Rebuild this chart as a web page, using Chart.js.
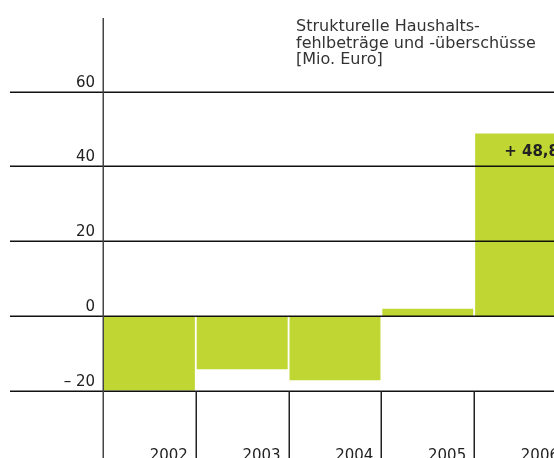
<!DOCTYPE html>
<html>
<head>
<meta charset="utf-8">
<script src="https://cdn.jsdelivr.net/npm/chart.js@4/dist/chart.umd.min.js"></script>
<style>
  html, body { margin:0; padding:0; overflow:hidden; background:#fff; }
  canvas { display:block; }
</style>
</head>
<body>
<canvas id="chart" width="567" height="485"></canvas>
<script>
// data
var years = ['2002', '2003', '2004', '2005', '2006'];
var values = [-20.0, -14.3, -17.2, 1.9, 48.8];
var valueLabels = ['', '', '', '', '+ 48,8'];
var yTicks = [-20, 0, 20, 40, 60];
var yTickLabels = ['\u2013 20', '0', '20', '40', '60'];
var titleLines = ['Strukturelle Haushalts-', 'fehlbeträge und -überschüsse', '[Mio. Euro]'];

var barColor = '#c0d632';
var textColor = '#222';

// draws the lines, axis texts and title on top of the bars
var decor = {
  id: 'decor',
  afterDatasetsDraw: function(chart) {
    var ctx = chart.ctx;
    var xs = chart.scales.x;
    var ys = chart.scales.y;
    var area = chart.chartArea;
    var H = chart.height;
    var W = chart.width;
    var half = (xs.getPixelForValue(1) - xs.getPixelForValue(0)) / 2;

    ctx.save();
    // horizontal lines
    ctx.strokeStyle = '#111';
    ctx.lineWidth = 1.5;
    for (var i = 0; i < yTicks.length; i++) {
      var y = Math.round(ys.getPixelForValue(yTicks[i])) + 0.25;
      ctx.beginPath();
      ctx.moveTo(10, y);
      ctx.lineTo(W, y);
      ctx.stroke();
    }
    // vertical axis
    ctx.strokeStyle = '#444';
    ctx.beginPath();
    ctx.moveTo(area.left + 0.25, 18);
    ctx.lineTo(area.left + 0.25, H);
    ctx.stroke();
    // category dividers below the lowest line
    var yLow = Math.round(ys.getPixelForValue(yTicks[0]));
    ctx.strokeStyle = '#222';
    for (var j = 0; j < years.length - 1; j++) {
      var xd = Math.round(xs.getPixelForValue(j) + half) + 0.25;
      ctx.beginPath();
      ctx.moveTo(xd, yLow);
      ctx.lineTo(xd, H);
      ctx.stroke();
    }

    // y labels, sitting above their line
    ctx.fillStyle = textColor;
    ctx.font = '15px "DejaVu Sans"';
    ctx.textAlign = 'right';
    ctx.textBaseline = 'alphabetic';
    for (var k = 0; k < yTicks.length; k++) {
      ctx.fillText(yTickLabels[k], area.left - 8, Math.round(ys.getPixelForValue(yTicks[k])) - 5);
    }
    // year labels, right aligned in their column
    for (var m = 0; m < years.length; m++) {
      ctx.fillText(years[m], xs.getPixelForValue(m) + half - 8, 460);
    }

    // value label
    ctx.font = 'bold 15px "DejaVu Sans"';
    ctx.textAlign = 'left';
    for (var n = 0; n < values.length; n++) {
      if (!valueLabels[n]) continue;
      ctx.fillText(valueLabels[n], xs.getPixelForValue(n) - half + 30, ys.getPixelForValue(values[n]) + 22);
    }

    // title
    ctx.fillStyle = '#333';
    ctx.font = '16px "DejaVu Sans"';
    for (var t = 0; t < titleLines.length; t++) {
      ctx.fillText(titleLines[t], 296, 31 + t * 16.5);
    }
    ctx.restore();
  }
};

var chart = new Chart(document.getElementById('chart'), {
  type: 'bar',
  data: {
    labels: years,
    datasets: [{
      data: values,
      backgroundColor: barColor,
      borderWidth: 0,
      barPercentage: 0.98,
      categoryPercentage: 1
    }]
  },
  options: {
    responsive: false,
    animation: false,
    devicePixelRatio: 1,
    layout: { padding: { left: 103, top: 17, right: 0, bottom: 1 } },
    scales: {
      x: { display: false },
      y: { display: false, min: -45, max: 80 }
    },
    plugins: {
      legend: { display: false },
      tooltip: { enabled: false },
      title: { display: false }
    }
  },
  plugins: [decor]
});
</script>
</body>
</html>
